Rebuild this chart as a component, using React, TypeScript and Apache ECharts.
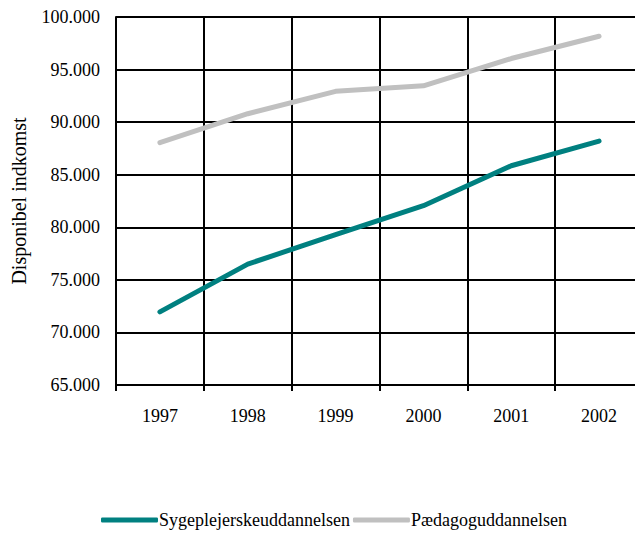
import React, { useEffect, useRef } from "react";
import * as echarts from "echarts";

const years = ["1997", "1998", "1999", "2000", "2001", "2002"];
const sygepleje = [71950, 76500, 79300, 82050, 85850, 88200];
const paedagog = [88050, 90800, 92930, 93450, 96050, 98170];
const seriesNames = ["Sygeplejerskeuddannelsen", "Pædagoguddannelsen"];
const yTitle = "Disponibel indkomst";

const FONT = "Liberation Serif";

function fmt(v: number): string {
  return String(v).replace(/\B(?=(\d{3})+(?!\d))/g, ".");
}

export default function App() {
  const ref = useRef<HTMLDivElement>(null);
  useEffect(() => {
    if (!ref.current) return;
    const chart = echarts.init(ref.current, undefined, { renderer: "svg" });
    chart.setOption({
      animation: false,
      backgroundColor: "#ffffff",
      textStyle: { fontFamily: FONT },
      grid: { left: 116, top: 17, width: 527, height: 368, containLabel: false },
      legend: {
        bottom: 3,
        left: 96,
        itemWidth: 57,
        itemHeight: 5,
        itemGap: 3,
        icon: "roundRect",
        textStyle: { fontFamily: FONT, fontSize: 18, color: "#000", padding: [0, 0, 0, -4] },
        data: seriesNames,
      },
      xAxis: {
        type: "category",
        data: years,
        boundaryGap: true,
        axisLine: { show: true, lineStyle: { color: "#000", width: 2 } },
        axisTick: { show: true, length: 6, lineStyle: { color: "#000", width: 2 } },
        splitLine: { show: true, lineStyle: { color: "#000", width: 2 } },
        axisLabel: { color: "#000", fontFamily: FONT, fontSize: 18, margin: 22 },
      },
      yAxis: {
        type: "value",
        min: 65000,
        max: 100000,
        interval: 5000,
        name: yTitle,
        nameLocation: "middle",
        nameGap: 87,
        nameTextStyle: { color: "#000", fontFamily: FONT, fontSize: 20 },
        axisLine: { show: true, lineStyle: { color: "#000", width: 2 } },
        axisTick: { show: false },
        splitLine: { show: true, lineStyle: { color: "#000", width: 2 } },
        axisLabel: {
          color: "#000",
          fontFamily: FONT,
          fontSize: 18,
          margin: 16,
          formatter: (v: number) => fmt(v),
        },
      },
      series: [
        {
          name: seriesNames[0],
          type: "line",
          data: sygepleje,
          symbol: "none",
          lineStyle: { color: "#008080", width: 5, cap: "round", join: "round" },
          itemStyle: { color: "#008080" },
        },
        {
          name: seriesNames[1],
          type: "line",
          data: paedagog,
          symbol: "none",
          lineStyle: { color: "#c0c0c0", width: 5, cap: "round", join: "round" },
          itemStyle: { color: "#c0c0c0" },
        },
      ],
    });
    return () => chart.dispose();
  }, []);
  return (
    <div
      ref={ref}
      style={{ position: "fixed", left: 0, top: 0, width: 660, height: 537 }}
    />
  );
}
